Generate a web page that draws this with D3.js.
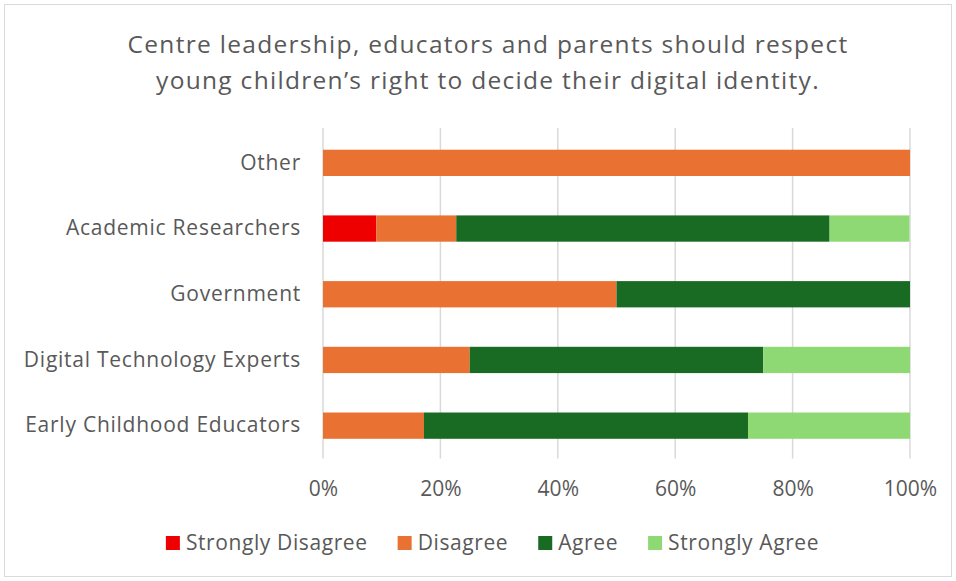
<!DOCTYPE html>
<html>
<head>
<meta charset="utf-8">
<script src="https://cdn.jsdelivr.net/npm/d3@7"></script>
<style>
  html, body { margin: 0; padding: 0; background: #fff; }
  svg text { font-family: "Open Sans", Roboto, sans-serif; fill: #595959; }
</style>
</head>
<body>
<svg id="chart" width="956" height="581"></svg>
<script>
// Respondent groups, top to bottom as drawn
const categories = ["Other", "Academic Researchers", "Government", "Digital Technology Experts", "Early Childhood Educators"];
const seriesNames = ["Strongly Disagree", "Disagree", "Agree", "Strongly Agree"];
// Share of responses (%) per group
const stronglyDisagree = [0, 9.1, 0, 0, 0];
const disagree = [100, 13.6, 50, 25, 17.2];
const agree = [0, 63.6, 50, 50, 55.2];
const stronglyAgree = [0, 13.6, 0, 25, 27.6];
const tickValues = [0, 20, 40, 60, 80, 100];
const colors = ["#EE0000", "#E97132", "#196B24", "#8ED973"];
const titleLines = ["Centre leadership, educators and parents should respect",
                    "young children\u2019s right to decide their digital identity."];

const svg = d3.select("#chart");
const W = 956, H = 581;

svg.append("rect").attr("x", 4.5).attr("y", 4.5).attr("width", W - 9).attr("height", H - 9)
  .attr("fill", "#fff").attr("stroke", "#d9d9d9").attr("stroke-width", 1);

const plot = { left: 323, right: 910, top: 130, bottom: 458.5 };

const x = d3.scaleLinear().domain([0, 100]).range([plot.left, plot.right]);
const y = d3.scaleBand().domain(categories).range([plot.top, plot.bottom]).paddingInner(0.6).paddingOuter(0.3);

// Title
svg.append("g").selectAll("text").data(titleLines).join("text")
  .attr("x", 488).attr("y", (d, i) => 53 + i * 36)
  .attr("text-anchor", "middle").style("font-size", "24.5px").style("letter-spacing", "1.3px").text(d => d);

// Vertical gridlines
svg.append("g").selectAll("line").data(tickValues).join("line")
  .attr("x1", d => x(d)).attr("x2", d => x(d))
  .attr("y1", plot.top - 2).attr("y2", plot.bottom)
  .attr("stroke", "#d9d9d9").attr("stroke-width", 1.5);

// Stacked bars
const rows = categories.map((c, i) => ({
  category: c,
  "Strongly Disagree": stronglyDisagree[i],
  "Disagree": disagree[i],
  "Agree": agree[i],
  "Strongly Agree": stronglyAgree[i]
}));
const stacked = d3.stack().keys(seriesNames)(rows);

svg.append("g").selectAll("g").data(stacked).join("g")
  .attr("fill", (d, i) => colors[i])
  .selectAll("rect").data(d => d).join("rect")
  .attr("x", d => x(d[0]))
  .attr("width", d => x(d[1]) - x(d[0]))
  .attr("y", d => y(d.data.category))
  .attr("height", y.bandwidth());

// Category axis labels
const yAxis = svg.append("g").attr("transform", `translate(${plot.left},0)`)
  .call(d3.axisLeft(y).tickSize(0).tickPadding(22));
yAxis.select(".domain").remove();
yAxis.selectAll("text").style("font-size", "21px").style("letter-spacing", "0.75px")
  .style("fill", "#595959").attr("font-family", null);

// Percentage axis labels
const xAxis = svg.append("g").attr("transform", `translate(0,${plot.bottom})`)
  .call(d3.axisBottom(x).tickValues(tickValues).tickFormat(d => d + "%").tickSize(0).tickPadding(23));
xAxis.select(".domain").remove();
xAxis.selectAll("text").style("font-size", "21px").style("fill", "#595959").attr("font-family", null);

// Legend
const legend = svg.append("g");
const items = legend.selectAll("g").data(seriesNames).join("g");
items.append("rect").attr("width", 14).attr("height", 14).attr("y", -7).attr("fill", (d, i) => colors[i]);
items.append("text").attr("x", 20).attr("dy", "0.35em").style("font-size", "21px")
  .style("letter-spacing", "0.6px").text(d => d);
let cursor = 0;
items.each(function () {
  const g = d3.select(this);
  g.attr("transform", `translate(${cursor},0)`);
  cursor += this.getBBox().width + 30;
});
cursor -= 30;
legend.attr("transform", `translate(${492.5 - cursor / 2},543)`);
</script>
</body>
</html>
